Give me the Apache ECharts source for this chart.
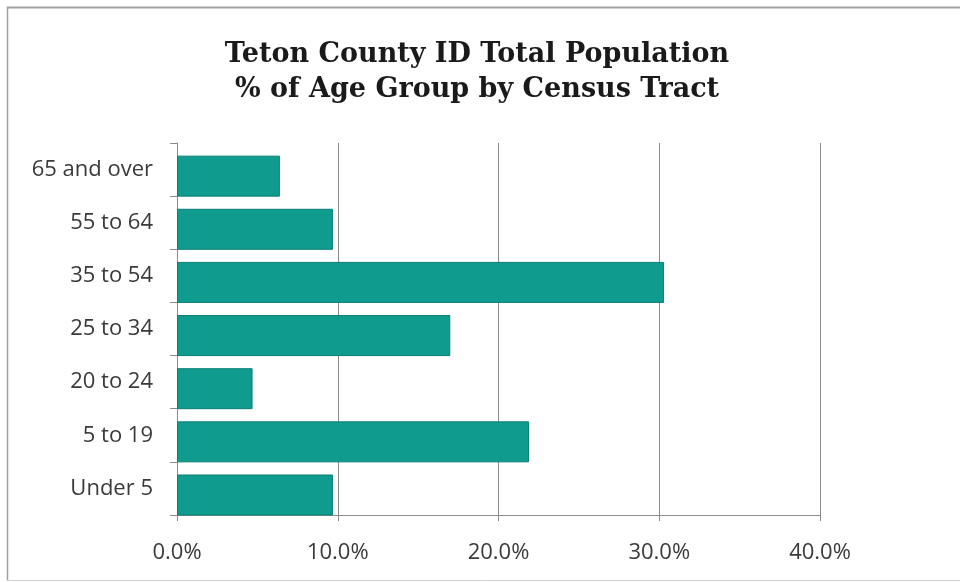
<!DOCTYPE html>
<html>
<head>
<meta charset="utf-8">
<script src="https://cdn.jsdelivr.net/npm/echarts@6/dist/echarts.min.js"></script>
<style>
  html, body { margin: 0; padding: 0; background: #ffffff; }
  #chart { width: 960px; height: 582px; }
</style>
</head>
<body>
<div id="chart"></div>
<script>
// Age groups, listed bottom to top along the category axis
const ageGroups = ['Under 5', '5 to 19', '20 to 24', '25 to 34', '35 to 54', '55 to 64', '65 and over'];
// Share of total population in each age group (%)
const sharePct = [9.7, 21.9, 4.7, 17.0, 30.3, 9.7, 6.4];
// Value axis ticks (%)
const xTicks = [0, 10, 20, 30, 40];

const chart = echarts.init(document.getElementById('chart'), null, { renderer: 'canvas' });

const labelFont = '"Open Sans", "Liberation Sans", sans-serif';

chart.setOption({
  backgroundColor: '#ffffff',
  animation: false,
  title: {
    text: 'Teton County ID Total Population\n% of Age Group by Census Tract',
    left: 472,
    top: 32,
    textAlign: 'center',
    textStyle: {
      fontFamily: '"DejaVu Serif", "Liberation Serif", serif',
      fontWeight: 'bold',
      fontSize: 27,
      lineHeight: 35,
      color: '#1a1a1a'
    }
  },
  graphic: [
    { type: 'line', shape: { x1: 7.5, y1: 7, x2: 7.5, y2: 580 }, style: { stroke: '#a0a0a0', lineWidth: 1.5 } },
    { type: 'line', shape: { x1: 7, y1: 7.5, x2: 960, y2: 7.5 }, style: { stroke: '#a0a0a0', lineWidth: 2 } },
    { type: 'line', shape: { x1: 7, y1: 580.5, x2: 960, y2: 580.5 }, style: { stroke: '#d0d0d0', lineWidth: 1 } }
  ],
  grid: { left: 177, right: 140, top: 143, bottom: 67, containLabel: false },
  xAxis: {
    type: 'value',
    min: xTicks[0],
    max: xTicks[xTicks.length - 1],
    interval: xTicks[1] - xTicks[0],
    axisLine: { show: true, lineStyle: { color: '#8c8c8c', width: 1 } },
    axisTick: { show: true, length: 6, lineStyle: { color: '#8c8c8c' } },
    splitLine: { show: true, lineStyle: { color: '#8c8c8c', width: 1 } },
    axisLabel: {
      margin: 27,
      fontFamily: labelFont,
      fontSize: 22,
      color: '#3a3a3a',
      formatter: v => v.toFixed(1) + '%'
    }
  },
  yAxis: {
    type: 'category',
    data: ageGroups,
    axisLine: { show: true, lineStyle: { color: '#8c8c8c', width: 1 } },
    axisTick: { show: true, length: 7, lineStyle: { color: '#8c8c8c' } },
    axisLabel: {
      margin: 24,
      fontFamily: labelFont,
      fontSize: 22,
      color: '#3a3a3a',
      padding: [5, 0, 0, 0]
    }
  },
  series: [
    {
      // empty companion series: shifts the bars toward the lower edge of each band
      name: 'spacer',
      type: 'bar',
      data: [],
      barWidth: 41,
      barGap: '-68%'
    },
    {
      name: '% of population',
      type: 'bar',
      data: sharePct,
      barWidth: 41,
      barGap: '-68%',
      itemStyle: { color: '#0f9b8e', borderColor: '#0a7f74', borderWidth: 1 }
    }
  ]
});
</script>
</body>
</html>
